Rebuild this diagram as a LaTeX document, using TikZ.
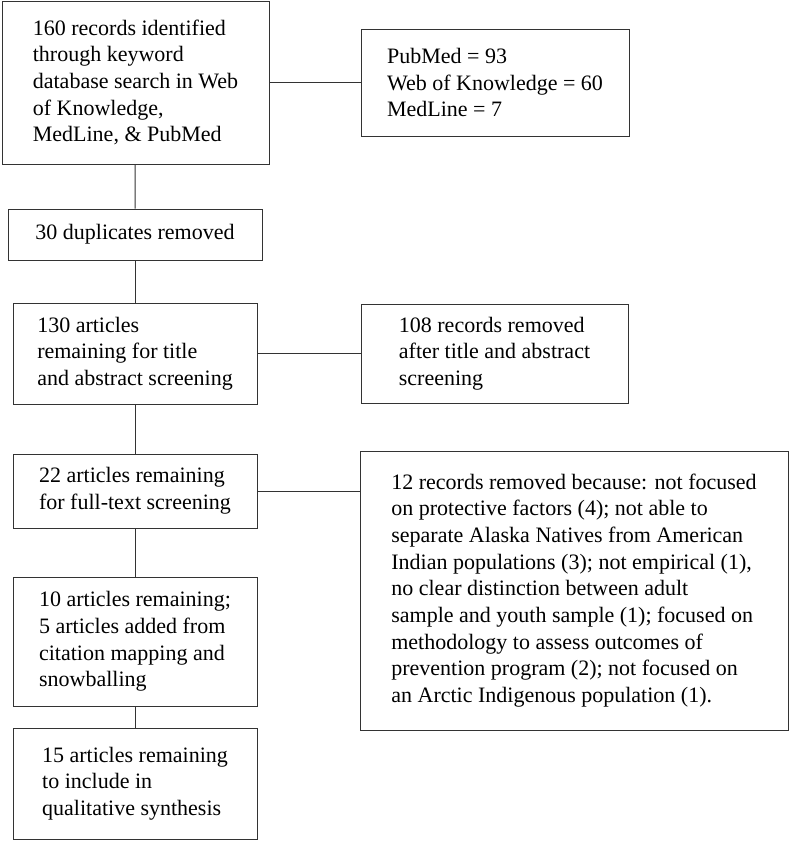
\documentclass[tikz,border=0pt]{standalone}
\usepackage{fontspec}
\setmainfont{Liberation Serif}
\usepackage{tikz}
\usetikzlibrary{positioning,calc}

\begin{document}
\begin{tikzpicture}[x=1pt,y=-1pt,
    font=\fontsize{22}{26.7}\selectfont,
    stagebox/.style={draw=black!80,line width=1pt,align=left,inner sep=0pt},
    link/.style={draw=black!80,line width=1pt}]
    \useasboundingbox (0,0) rectangle (789,841);

    % Main stages (left column)
    \node[stagebox,minimum width=267pt,minimum height=163pt] (search) at (135.5,82.5)
      {160 records identified\\through keyword\\database search in Web\\of Knowledge,\\MedLine, \& PubMed};
    \node[stagebox,minimum width=254pt,minimum height=51pt] (dupes) at (135,234.5)
      {30 duplicates removed};
    \node[stagebox,minimum width=244pt,minimum height=101pt] (titles) at (135,353.5)
      {130 articles\\remaining for title\\and abstract screening};
    \node[stagebox,minimum width=244pt,minimum height=74pt] (fulltext) at (135,491)
      {22 articles remaining\\for full-text screening};
    \node[stagebox,minimum width=244pt,minimum height=129pt] (added) at (135,641.5)
      {10 articles remaining;\\5 articles added from\\citation mapping and\\snowballing};
    \node[stagebox,minimum width=244pt,minimum height=111pt] (final) at (135,783.5)
      {15 articles remaining\\to include in\\qualitative synthesis};

    % Side notes (right column)
    \node[stagebox,minimum width=268pt,minimum height=107pt] (sources) at (495,82.5)
      {PubMed = 93\\Web of Knowledge = 60\\MedLine = 7};
    \node[stagebox,minimum width=267pt,minimum height=99pt] (excl1) at (494.5,353.5)
      {108 records removed\\after title and abstract\\screening};
    \node[stagebox,minimum width=428pt,minimum height=279pt] (excl2) at (574,590.5)
      {12 records removed because: not focused\\on protective factors (4); not able to\\separate Alaska Natives from American\\Indian populations (3); not empirical (1),\\no clear distinction between adult\\sample and youth sample (1); focused on\\methodology to assess outcomes of\\prevention program (2); not focused on\\an Arctic Indigenous population (1).};

    % Connectors
    \draw[link] (search) -- (dupes);
    \draw[link] (dupes) -- (titles);
    \draw[link] (titles) -- (fulltext);
    \draw[link] (fulltext) -- (added);
    \draw[link] (added) -- (final);
    \draw[link] (search) -- (sources);
    \draw[link] (titles) -- (excl1);
    \draw[link] (fulltext.east) -- (fulltext.east -| excl2.west);
\end{tikzpicture}
\end{document}
